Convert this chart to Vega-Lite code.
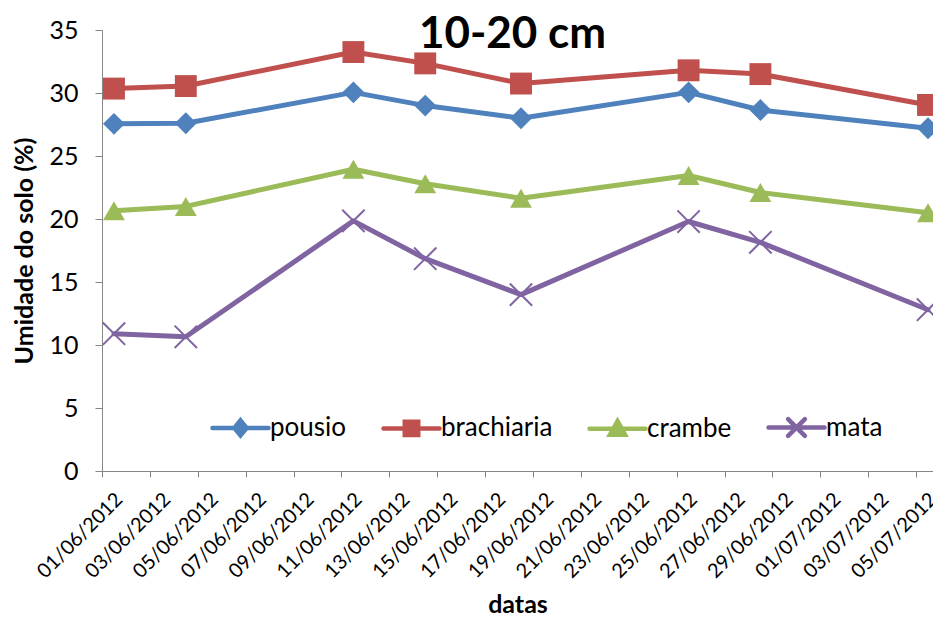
{
  "$schema": "https://vega.github.io/schema/vega-lite/v6.json",
  "width": 831,
  "height": 441,
  "autosize": {"type": "none"},
  "padding": {"left": 102, "top": 30, "right": 0, "bottom": 148},
  "background": "white",
  "config": {"view": {"stroke": null}, "font": "Lato"},
  "title": {
    "text": "10-20 cm",
    "font": "Lato",
    "fontSize": 44,
    "fontWeight": "bold",
    "color": "#000000",
    "anchor": "middle",
    "frame": "group",
    "orient": "bottom",
    "baseline": "alphabetic",
    "offset": -569,
    "dx": -5
  },
  "data": {
    "values": [
      {"data": "2012-06-01", "tratamento": "pousio", "umidade": 27.55},
      {"data": "2012-06-04", "tratamento": "pousio", "umidade": 27.6},
      {"data": "2012-06-11", "tratamento": "pousio", "umidade": 30.05},
      {"data": "2012-06-14", "tratamento": "pousio", "umidade": 29.0},
      {"data": "2012-06-18", "tratamento": "pousio", "umidade": 28.0},
      {"data": "2012-06-25", "tratamento": "pousio", "umidade": 30.05},
      {"data": "2012-06-28", "tratamento": "pousio", "umidade": 28.65},
      {"data": "2012-07-05", "tratamento": "pousio", "umidade": 27.2},
      {"data": "2012-06-01", "tratamento": "brachiaria", "umidade": 30.35},
      {"data": "2012-06-04", "tratamento": "brachiaria", "umidade": 30.55},
      {"data": "2012-06-11", "tratamento": "brachiaria", "umidade": 33.25},
      {"data": "2012-06-14", "tratamento": "brachiaria", "umidade": 32.35},
      {"data": "2012-06-18", "tratamento": "brachiaria", "umidade": 30.75},
      {"data": "2012-06-25", "tratamento": "brachiaria", "umidade": 31.8},
      {"data": "2012-06-28", "tratamento": "brachiaria", "umidade": 31.5},
      {"data": "2012-07-05", "tratamento": "brachiaria", "umidade": 29.05},
      {"data": "2012-06-01", "tratamento": "crambe", "umidade": 20.65},
      {"data": "2012-06-04", "tratamento": "crambe", "umidade": 21.0},
      {"data": "2012-06-11", "tratamento": "crambe", "umidade": 23.95},
      {"data": "2012-06-14", "tratamento": "crambe", "umidade": 22.8},
      {"data": "2012-06-18", "tratamento": "crambe", "umidade": 21.65},
      {"data": "2012-06-25", "tratamento": "crambe", "umidade": 23.45},
      {"data": "2012-06-28", "tratamento": "crambe", "umidade": 22.1},
      {"data": "2012-07-05", "tratamento": "crambe", "umidade": 20.5},
      {"data": "2012-06-01", "tratamento": "mata", "umidade": 10.9},
      {"data": "2012-06-04", "tratamento": "mata", "umidade": 10.65},
      {"data": "2012-06-11", "tratamento": "mata", "umidade": 19.85},
      {"data": "2012-06-14", "tratamento": "mata", "umidade": 16.85},
      {"data": "2012-06-18", "tratamento": "mata", "umidade": 14.0},
      {"data": "2012-06-25", "tratamento": "mata", "umidade": 19.8},
      {"data": "2012-06-28", "tratamento": "mata", "umidade": 18.15},
      {"data": "2012-07-05", "tratamento": "mata", "umidade": 12.8}
    ]
  },
  "encoding": {
    "x": {
      "field": "data",
      "timeUnit": "utcyearmonthdate",
      "type": "temporal",
      "bandPosition": 0.5,
      "scale": {
        "domain": [
          {"year": 2012, "month": 6, "date": 1, "utc": true},
          {"year": 2012, "month": 7, "date": 5, "hours": 17, "utc": true}
        ]
      },
      "axis": {
        "title": "datas",
        "titleFont": "Lato",
        "titleFontSize": 25,
        "titleFontWeight": "bold",
        "titleColor": "#000000",
        "titleY": 133,
        "titleBaseline": "middle",
        "format": "%d/%m/%Y",
        "values": [
          {"year": 2012, "month": 6, "date": 1, "utc": true},
          {"year": 2012, "month": 6, "date": 3, "utc": true},
          {"year": 2012, "month": 6, "date": 5, "utc": true},
          {"year": 2012, "month": 6, "date": 7, "utc": true},
          {"year": 2012, "month": 6, "date": 9, "utc": true},
          {"year": 2012, "month": 6, "date": 11, "utc": true},
          {"year": 2012, "month": 6, "date": 13, "utc": true},
          {"year": 2012, "month": 6, "date": 15, "utc": true},
          {"year": 2012, "month": 6, "date": 17, "utc": true},
          {"year": 2012, "month": 6, "date": 19, "utc": true},
          {"year": 2012, "month": 6, "date": 21, "utc": true},
          {"year": 2012, "month": 6, "date": 23, "utc": true},
          {"year": 2012, "month": 6, "date": 25, "utc": true},
          {"year": 2012, "month": 6, "date": 27, "utc": true},
          {"year": 2012, "month": 6, "date": 29, "utc": true},
          {"year": 2012, "month": 7, "date": 1, "utc": true},
          {"year": 2012, "month": 7, "date": 3, "utc": true},
          {"year": 2012, "month": 7, "date": 5, "utc": true}
        ],
        "bandPosition": 0,
        "labelAngle": -45,
        "labelAlign": "right",
        "labelBaseline": "middle",
        "labelOffset": 17,
        "labelPadding": 19,
        "labelFont": "Lato",
        "labelFontSize": 20,
        "labelColor": "#000000",
        "labelOverlap": false,
        "labelFlush": false,
        "labelBound": false,
        "tickSize": 6,
        "tickColor": "#868686",
        "domainColor": "#868686",
        "grid": false
      }
    },
    "y": {
      "field": "umidade",
      "type": "quantitative",
      "scale": {"domain": [0, 35]},
      "axis": {
        "title": "Umidade do solo (%)",
        "titleFont": "Lato",
        "titleFontSize": 25,
        "titleFontWeight": "bold",
        "titleColor": "#000000",
        "titleX": -78,
        "titleBaseline": "middle",
        "values": [0, 5, 10, 15, 20, 25, 30, 35],
        "labelFont": "Lato",
        "labelFontSize": 25,
        "labelColor": "#000000",
        "labelPadding": 17,
        "tickSize": 7,
        "tickColor": "#868686",
        "domainColor": "#868686",
        "grid": false
      }
    },
    "color": {
      "field": "tratamento",
      "type": "nominal",
      "scale": {
        "domain": ["pousio", "brachiaria", "crambe", "mata"],
        "range": ["#4F81BD", "#C0504D", "#9BBB59", "#8064A2"]
      },
      "legend": null
    }
  },
  "layer": [
    {
      "mark": {"type": "line", "strokeWidth": 5, "strokeCap": "round", "strokeJoin": "round"},
      "encoding": {
        "color": {
          "field": "tratamento",
          "type": "nominal",
          "scale": {
            "domain": ["pousio", "brachiaria", "crambe", "mata"],
            "range": ["#4F81BD", "#C0504D", "#9BBB59", "#8064A2"]
          },
          "legend": {
            "orient": "none",
            "legendX": 108,
            "legendY": 367,
            "direction": "horizontal",
            "title": null,
            "padding": 0,
            "symbolSize": 3136,
            "symbolStrokeWidth": 4.5,
            "symbolType": "stroke",
            "labelFont": "Lato",
            "labelFontSize": 26,
            "labelColor": "#000000",
            "labelOffset": -1,
            "columnPadding": 27,
            "encode": {
              "symbols": {
                "update": {
                  "shape": {"signal": "datum.value === 'pousio' ? 'M-1,0L1,0M0,-0.27L0.22,0L0,0.27L-0.22,0Z' : datum.value === 'brachiaria' ? 'M-1,0L1,0M-0.24,-0.24L0.24,-0.24L0.24,0.24L-0.24,0.24Z' : datum.value === 'crambe' ? 'M-1,0L1,0M0,-0.27L0.27,0.22L-0.27,0.22Z' : 'M-1,0L1,0M-0.3,-0.3L0.3,0.3M-0.3,0.3L0.3,-0.3'"},
                  "fill": {"signal": "scale('color', datum.value)"},
                  "stroke": {"signal": "scale('color', datum.value)"},
                  "strokeCap": {"value": "round"}
                }
              }
            }
          }
        }
      }
    },
    {
      "transform": [{"filter": "datum.tratamento !== 'mata'"}],
      "mark": {"type": "point", "filled": true, "opacity": 1, "size": 480},
      "encoding": {
        "shape": {
          "field": "tratamento",
          "type": "nominal",
          "scale": {
            "domain": ["pousio", "brachiaria", "crambe"],
            "range": ["diamond", "square", "triangle-up"]
          },
          "legend": null
        }
      }
    },
    {
      "transform": [{"filter": "datum.tratamento === 'mata'"}],
      "mark": {
        "type": "point",
        "shape": "M-1,-1L1,1M-1,1L1,-1",
        "filled": false,
        "opacity": 1,
        "strokeWidth": 2,
        "size": 500
      }
    }
  ]
}
